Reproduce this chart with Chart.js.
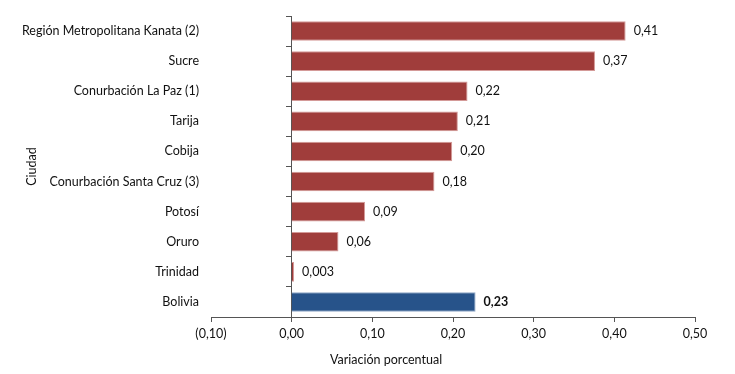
<!DOCTYPE html>
<html>
<head>
<meta charset="utf-8">
<script src="https://cdn.jsdelivr.net/npm/chart.js@4.4.0/dist/chart.umd.min.js"></script>
<style>
    html, body { margin: 0; padding: 0; background: #fff; }
</style>
</head>
<body>
<canvas id="variacionChart" width="735" height="374"></canvas>
<script>
// Datos
const ciudades = [
    'Región Metropolitana Kanata (2)',
    'Sucre',
    'Conurbación La Paz (1)',
    'Tarija',
    'Cobija',
    'Conurbación Santa Cruz (3)',
    'Potosí',
    'Oruro',
    'Trinidad',
    'Bolivia'
];
const variacion = [0.414, 0.376, 0.218, 0.206, 0.199, 0.177, 0.091, 0.058, 0.003, 0.228];
const etiquetas = ['0,41', '0,37', '0,22', '0,21', '0,20', '0,18', '0,09', '0,06', '0,003', '0,23'];
const ejeX = { min: -0.1, max: 0.5, paso: 0.1 };

const rojo = '#A03D3B';
const azul = '#27538A';
const fuente = 'Lato, "Open Sans", sans-serif';
const tam = 12.5;
const colorTexto = '#111';

const colores = ciudades.map(c => c === 'Bolivia' ? azul : rojo);
const bordes = ciudades.map(c => c === 'Bolivia' ? '#8FA7C6' : '#D49A98');

// Formato de números: coma decimal, negativos entre paréntesis
const formato = (v) => {
    const t = Math.abs(v).toFixed(2).replace('.', ',');
    return v < -1e-9 ? '(' + t + ')' : t;
};

// Etiquetas de valor al final de cada barra
const etiquetasValor = {
    id: 'etiquetasValor',
    afterDatasetsDraw(chart) {
        const ctx = chart.ctx;
        const meta = chart.getDatasetMeta(0);
        ctx.save();
        ctx.textBaseline = 'middle';
        ctx.textAlign = 'left';
        ctx.fillStyle = colorTexto;
        meta.data.forEach((bar, i) => {
            const negrita = ciudades[i] === 'Bolivia';
            ctx.font = (negrita ? 'bold ' : '') + tam + 'px ' + fuente;
            ctx.fillText(etiquetas[i], bar.x + 8, bar.y);
        });
        ctx.restore();
    }
};

// Título del eje X (desplazado a la izquierda como en el original)
const tituloEjeX = {
    id: 'tituloEjeX',
    afterDraw(chart) {
        const x = chart.scales.x;
        const ctx = chart.ctx;
        ctx.save();
        ctx.font = tam + 'px ' + fuente;
        ctx.fillStyle = colorTexto;
        ctx.textAlign = 'center';
        ctx.textBaseline = 'middle';
        ctx.fillText('Variación porcentual', x.getPixelForValue(0.117), x.bottom + 15);
        ctx.restore();
    }
};

new Chart(
    document.getElementById('variacionChart'),
    {
        type: 'bar',
        data: {
            labels: ciudades,
            datasets: [{
                label: 'Variación porcentual',
                data: variacion,
                backgroundColor: colores,
                borderColor: bordes,
                borderWidth: 1,
                barPercentage: 0.65,
                categoryPercentage: 1
            }]
        },
        options: {
            indexAxis: 'y',
            responsive: false,
            animation: false,
            layout: { padding: { left: 22, top: 16, right: 40, bottom: 29 } },
            plugins: {
                legend: { display: false },
                tooltip: { enabled: false }
            },
            scales: {
                x: {
                    min: ejeX.min,
                    max: ejeX.max,
                    ticks: {
                        stepSize: ejeX.paso,
                        callback: (v) => formato(v),
                        color: colorTexto,
                        font: { family: fuente, size: tam },
                        padding: 4,
                        maxRotation: 0
                    },
                    grid: {
                        drawOnChartArea: false,
                        tickLength: 5,
                        color: '#555'
                    },
                    border: { color: '#555' }
                },
                y: {
                    ticks: {
                        color: colorTexto,
                        font: { family: fuente, size: tam },
                        padding: 4
                    },
                    grid: { display: false },
                    border: { display: false },
                    title: {
                        display: true,
                        text: 'Ciudad',
                        color: colorTexto,
                        font: { family: fuente, size: tam },
                        padding: 2
                    },
                    afterFit: (scale) => { scale.width = 189; }
                },
                yCero: {
                    type: 'category',
                    axis: 'y',
                    labels: ciudades,
                    position: { x: 0 },
                    offset: true,
                    ticks: { display: false },
                    grid: {
                        offset: true,
                        drawOnChartArea: false,
                        tickLength: 5,
                        color: '#555'
                    },
                    border: { color: '#555' },
                    afterFit: (scale) => { scale.width = 0; }
                }
            }
        },
        plugins: [etiquetasValor, tituloEjeX]
    }
);
</script>
</body>
</html>
